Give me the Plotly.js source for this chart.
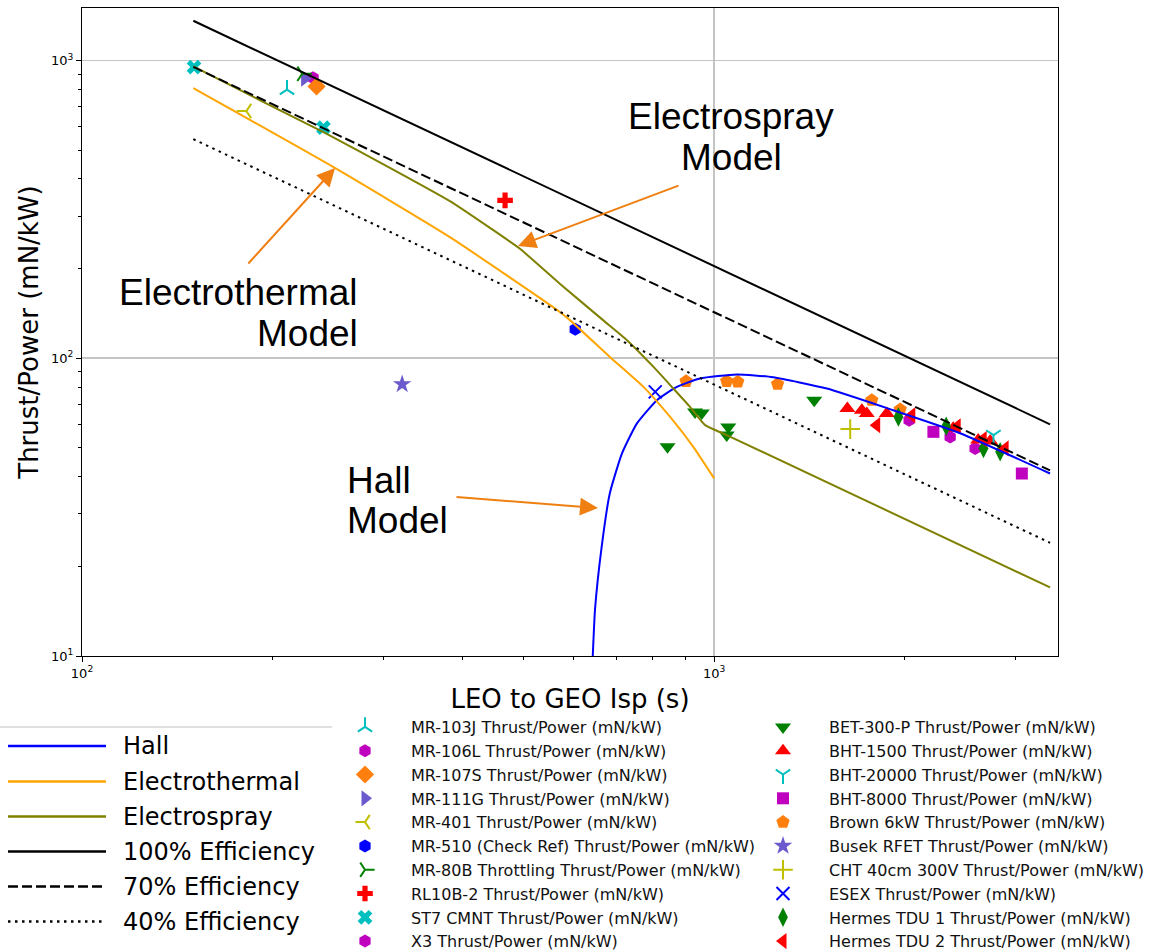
<!DOCTYPE html>
<html><head><meta charset="utf-8">
<script src="https://cdn.plot.ly/plotly-3.0.1.min.js"></script>
<style>body{margin:0;background:#fff}#chart{width:1157px;height:952px}</style>
</head><body><div id="chart"></div>
<script>
// ---------- model curves: Isp (s) vs Thrust/Power (mN/kW) ----------
const hallIsp = [638, 643, 648, 664, 684, 715, 755, 812, 873, 950, 1086, 1240, 1508, 1920, 2450, 3400];
const hallTP  = [7.0, 10.2, 14.3, 23.3, 35.2, 47.9, 60.4, 72.3, 80.1, 85.5, 88.2, 86.3, 79.1, 66.9, 56.0, 41.0];
const etIsp = [150, 250, 382, 570, 592, 684, 773, 852, 927, 1000];
const etTP  = [807, 438, 255, 143, 134, 101, 80.1, 63.5, 50.4, 39.5];
const esIsp = [150, 191, 241, 307, 382, 442, 493, 570, 668, 728, 802, 862, 916, 968, 1047, 3400];
const esTP  = [955, 736, 574, 436, 337, 274, 233, 178, 134, 115, 93.5, 79.1, 68.6, 59.6, 55.2, 17.0];
const effIsp = [150, 3400];
const eff100 = [1359, 60.0];
const eff70  = [951, 42.0];
const eff40  = [544, 24.0];

// ---------- thruster data ----------
const mr103jIsp = [211], mr103jTP = [798];
const mr106lIsp = [232], mr106lTP = [875];
const mr107sIsp = [235], mr107sTP = [818];
const mr111gIsp = [225], mr111gTP = [868];
const mr401Isp = [182], mr401TP = [676];
const mr510Isp = [603], mr510TP = [125];
const mr80bIsp = [223], mr80bTP = [902];
const rl10Isp = [467], rl10TP = [339];
const st7Isp = [150.4, 241], st7TP = [950, 595];
const x3Isp = [2035, 2363, 2588], x3TP = [61.9, 54.4, 49.8];
const bet300Isp = [844, 933, 956, 1053, 1047, 1440], bet300TP = [50.4, 66.0, 65.5, 58.8, 55.2, 72.3];
const bht1500Isp = [1625, 1713, 1744, 1876, 2389, 2617, 2734], bht1500TP = [67.8, 66.9, 65.2, 65.2, 58.2, 53.1, 52.7];
const bht20000Isp = [2767], bht20000TP = [55.2];
const bht8000Isp = [2223, 3068], bht8000TP = [56.6, 41.0];
const brownIsp = [903, 1047, 1090, 1260, 1776, 1970], brownTP = [83.7, 83.7, 83.3, 81.8, 72.3, 67.3];
const busekIsp = [321], busekTP = [81.8];
const chtIsp = [1642], chtTP = [57.8];
const esexIsp = [807], esexTP = [77.1];
const hermes1Isp = [1957, 2329, 2668, 2835], hermes1TP = [63.5, 59.1, 49.8, 48.5];
const hermes2Isp = [1808, 2055, 2424, 2665, 2887], hermes2TP = [59.6, 64.4, 59.1, 53.5, 49.8];

const lineNames = ['Hall', 'Electrothermal', 'Electrospray', '100% Efficiency', '70% Efficiency', '40% Efficiency'];
const xTickVals = [100, 1000], xTickText = ['10<sup>2</sup>', '10<sup>3</sup>'];
const yTickVals = [10, 100, 1000], yTickText = ['10<sup>1</sup>', '10<sup>2</sup>', '10<sup>3</sup>'];
const xMinor = [200, 300, 400, 500, 600, 700, 800, 900, 2000, 3000];
const yMinor = [20, 30, 40, 50, 60, 70, 80, 90, 200, 300, 400, 500, 600, 700, 800, 900];

// ---------- geometry helpers (pixel -> paper) ----------
const W = 1157, H = 952, M = {l: 82, r: 99, t: 8, b: 296, autoexpand: false};
const PW = W - M.l - M.r, PH = H - M.t - M.b;
const px = v => (v - M.l) / PW;
const py = v => (H - M.b - v) / PH;

const LEG = 'legend2', LEG2 = 'legend3';
function sc(name, x, y, symbol, color, size, leg, open) {
  const m = {symbol: symbol, size: size, color: color};
  if (open) { m.line = {color: color, width: 2}; } else { m.line = {width: 0}; }
  return {type: 'scatter', mode: 'markers', name: name, x: x, y: y, marker: m, legend: leg, cliponaxis: true};
}
const C = '#00bfbf', MG = '#bf00bf', OR = '#ff7f0e', SB = '#6a5acd', YL = '#bfbf00', BL = '#0000ff', GR = '#008000', RD = '#ff0000';
const traces = [
  sc('MR-103J Thrust/Power (mN/kW)', mr103jIsp, mr103jTP, 'y-up', C, 12, LEG, true),
  sc('MR-106L Thrust/Power (mN/kW)', mr106lIsp, mr106lTP, 'hexagon', MG, 13, LEG),
  sc('MR-107S Thrust/Power (mN/kW)', mr107sIsp, mr107sTP, 'diamond', OR, 14, LEG),
  sc('MR-111G Thrust/Power (mN/kW)', mr111gIsp, mr111gTP, 'triangle-right', SB, 14, LEG),
  sc('MR-401 Thrust/Power (mN/kW)', mr401Isp, mr401TP, 'y-left', YL, 12, LEG, true),
  sc('MR-510 (Check Ref) Thrust/Power (mN/kW)', mr510Isp, mr510TP, 'hexagon', BL, 13, LEG),
  sc('MR-80B Throttling Thrust/Power (mN/kW)', mr80bIsp, mr80bTP, 'y-right', GR, 12, LEG, true),
  sc('RL10B-2 Thrust/Power (mN/kW)', rl10Isp, rl10TP, 'cross', RD, 13, LEG),
  sc('ST7 CMNT Thrust/Power (mN/kW)', st7Isp, st7TP, 'x', C, 13, LEG),
  sc('X3 Thrust/Power (mN/kW)', x3Isp, x3TP, 'hexagon', MG, 13, LEG),
  sc('BET-300-P Thrust/Power (mN/kW)', bet300Isp, bet300TP, 'triangle-down', GR, 14, LEG2),
  sc('BHT-1500 Thrust/Power (mN/kW)', bht1500Isp, bht1500TP, 'triangle-up', RD, 14, LEG2),
  sc('BHT-20000 Thrust/Power (mN/kW)', bht20000Isp, bht20000TP, 'y-down', C, 12, LEG2, true),
  sc('BHT-8000 Thrust/Power (mN/kW)', bht8000Isp, bht8000TP, 'square', MG, 12, LEG2),
  sc('Brown 6kW Thrust/Power (mN/kW)', brownIsp, brownTP, 'pentagon', OR, 14, LEG2),
  sc('Busek RFET Thrust/Power (mN/kW)', busekIsp, busekTP, 'star', SB, 14, LEG2),
  sc('CHT 40cm 300V Thrust/Power (mN/kW)', chtIsp, chtTP, 'cross-thin', YL, 14, LEG2, true),
  sc('ESEX Thrust/Power (mN/kW)', esexIsp, esexTP, 'x-thin', BL, 13, LEG2, true),
  sc('Hermes TDU 1 Thrust/Power (mN/kW)', hermes1Isp, hermes1TP, 'diamond-tall', GR, 14, LEG2),
  sc('Hermes TDU 2 Thrust/Power (mN/kW)', hermes2Isp, hermes2TP, 'triangle-left', RD, 14, LEG2)
];
const lineStyles = [
  {x: hallIsp, y: hallTP, color: '#0000ff', dash: 'solid', shape: 'spline'},
  {x: etIsp, y: etTP, color: '#ffa500', dash: 'solid', shape: 'spline'},
  {x: esIsp, y: esTP, color: '#808000', dash: 'solid', shape: 'spline'},
  {x: effIsp, y: eff100, color: '#000000', dash: 'solid', shape: 'linear'},
  {x: effIsp, y: eff70, color: '#000000', dash: '10px,4px', shape: 'linear'},
  {x: effIsp, y: eff40, color: '#000000', dash: '2.5px,4.5px', shape: 'linear'}
];
lineStyles.forEach((s, i) => {
  traces.push({type: 'scatter', mode: 'lines', name: lineNames[i], x: s.x, y: s.y, showlegend: false,
    line: {color: s.color, width: 2, dash: s.dash, shape: s.shape, smoothing: 0.5}});
});

// ---------- manual line legend ----------
const shapes = [{type: 'line', xref: 'paper', yref: 'paper', x0: px(0), x1: px(332), y0: py(727), y1: py(727),
  line: {color: '#d6d6d6', width: 1.5}}];
const annotations = [];
const legRows = [746, 781.5, 816.5, 851.5, 886.5, 921.5];
lineStyles.forEach((s, i) => {
  shapes.push({type: 'line', xref: 'paper', yref: 'paper', x0: px(8), x1: px(106), y0: py(legRows[i]), y1: py(legRows[i]),
    line: {color: s.color, width: 2.5, dash: s.dash}});
  annotations.push({xref: 'paper', yref: 'paper', x: px(121), y: py(legRows[i]), xanchor: 'left', yanchor: 'middle',
    text: lineNames[i], showarrow: false, font: {family: 'DejaVu Sans', size: 24, color: '#000'}});
});

// ---------- model labels and arrows ----------
const AF = {family: 'Liberation Sans, Arial', size: 37, color: '#000'};
function lab(t, x, y, xa) {
  annotations.push({xref: 'paper', yref: 'paper', x: px(x), y: py(y), xanchor: xa, yanchor: 'middle', text: t, showarrow: false, font: AF});
}
lab('Electrospray', 731, 117, 'center'); lab('Model', 731, 157, 'center');
lab('Electrothermal', 360, 293, 'right'); lab('Model', 360, 333, 'right');
lab('Hall', 345, 480, 'left'); lab('Model', 345, 520, 'left');
function arr(hx, hy, tx, ty) {
  annotations.push({xref: 'paper', yref: 'paper', x: px(hx), y: py(hy), ax: tx - hx, ay: ty - hy, text: '',
    showarrow: true, arrowhead: 2, arrowsize: 1.8, arrowwidth: 2, arrowcolor: '#f07f12', standoff: 0});
}
arr(518, 246, 680, 185);
arr(335, 168, 247, 265);
arr(598, 508, 455, 497);

const axisCommon = {type: 'log', showline: true, mirror: true, linecolor: '#000', linewidth: 1,
  ticks: 'outside', ticklen: 5, tickcolor: '#000', tickwidth: 1, showgrid: true, gridcolor: '#c4c4c4', gridwidth: 1.6,
  zeroline: false, tickfont: {family: 'DejaVu Sans', size: 13, color: '#000'}};
const layout = {
  width: W, height: H, margin: M, paper_bgcolor: '#fff', plot_bgcolor: '#fff',
  font: {family: 'DejaVu Sans', color: '#000'},
  xaxis: Object.assign({}, axisCommon, {range: [2, Math.log10(3500)], tickvals: xTickVals, ticktext: xTickText,
    minor: {tickvals: xMinor, ticks: 'outside', ticklen: 3, tickcolor: '#000', showgrid: false},
    title: {text: 'LEO to GEO Isp (s)', font: {family: 'DejaVu Sans', size: 26, color: '#000'}, standoff: 10}}),
  yaxis: Object.assign({}, axisCommon, {range: [1, Math.log10(1500)], tickvals: yTickVals, ticktext: yTickText,
    minor: {tickvals: yMinor, ticks: 'outside', ticklen: 3, tickcolor: '#000', showgrid: false},
    title: {text: 'Thrust/Power (mN/kW)', font: {family: 'DejaVu Sans', size: 26, color: '#000'}, standoff: 4}}),
  legend2: {x: px(319), y: py(710), xanchor: 'left', yanchor: 'top', itemwidth: 82, bgcolor: 'rgba(0,0,0,0)',
    font: {family: 'DejaVu Sans', size: 16, color: '#111'}},
  legend3: {x: px(737), y: py(710), xanchor: 'left', yanchor: 'top', itemwidth: 82, bgcolor: 'rgba(0,0,0,0)',
    font: {family: 'DejaVu Sans', size: 16, color: '#111'}},
  shapes: shapes, annotations: annotations
};
Plotly.newPlot('chart', traces, layout, {staticPlot: true});
</script></body></html>
